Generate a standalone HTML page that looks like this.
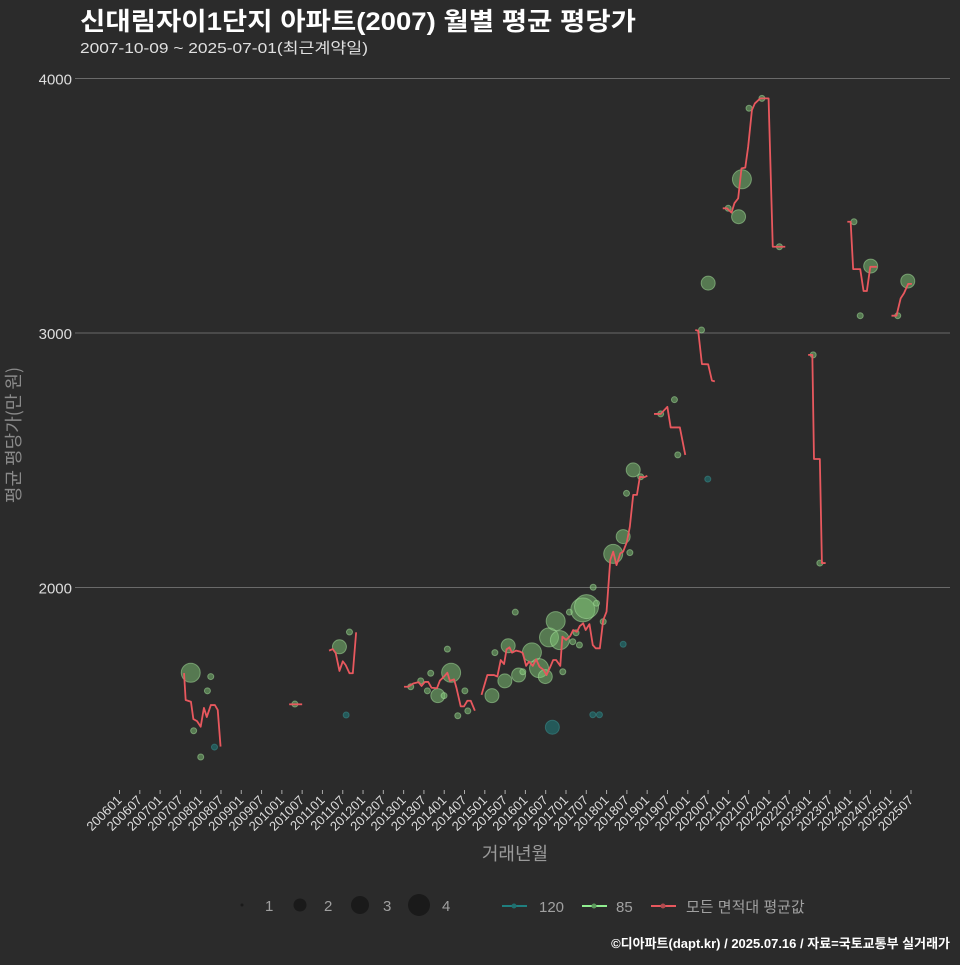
<!DOCTYPE html>
<html><head><meta charset="utf-8"><style>
body{margin:0;background:#2b2b2b;}
svg text{font-family:"Liberation Sans","Noto Sans CJK KR",sans-serif;}
</style></head><body>
<svg id="chart" width="960" height="960" xmlns="http://www.w3.org/2000/svg">
<rect width="960" height="960" fill="#2b2b2b"/>
<text x="80" y="30" fill="#ffffff" font-size="25" font-weight="bold" textLength="556" lengthAdjust="spacingAndGlyphs">신대림자이1단지 아파트(2007) 월별 평균 평당가</text>
<text x="80" y="53" fill="#e0e0e0" font-size="15" textLength="288" lengthAdjust="spacingAndGlyphs">2007-10-09 ~ 2025-07-01(최근계약일)</text>
<g id="grid"></g>
<g id="xaxis"></g>
<text x="515" y="860" fill="#9a9a9a" font-size="18" text-anchor="middle">거래년월</text>
<text transform="translate(20,435) rotate(-90)" fill="#8a8a8a" font-size="18" text-anchor="middle" style="font-family:'Noto Sans CJK KR',sans-serif">평균 평당가(만 원)</text>
<g id="points"></g>
<g id="lines"></g>
<g>
 <circle cx="242" cy="905" r="1.5" fill="#1a1a1a"/>
 <text x="265" y="911" fill="#a0a0a0" font-size="15">1</text>
 <circle cx="300" cy="905" r="6.5" fill="#1a1a1a"/>
 <text x="324" y="911" fill="#a0a0a0" font-size="15">2</text>
 <circle cx="360" cy="905" r="9" fill="#1a1a1a"/>
 <text x="383" y="911" fill="#a0a0a0" font-size="15">3</text>
 <circle cx="419" cy="905" r="11" fill="#1a1a1a"/>
 <text x="442" y="911" fill="#a0a0a0" font-size="15">4</text>
 <line x1="502" y1="906" x2="527" y2="906" stroke="#1f7f7f" stroke-width="2"/>
 <circle cx="514" cy="906" r="2.5" fill="#1f6f6f"/>
 <text x="539" y="912" fill="#a0a0a0" font-size="15">120</text>
 <line x1="582" y1="906" x2="607" y2="906" stroke="#90ee90" stroke-width="2"/>
 <circle cx="594" cy="906" r="2.5" fill="#5c9a5c"/>
 <text x="616" y="912" fill="#a0a0a0" font-size="15">85</text>
 <line x1="651" y1="906" x2="676" y2="906" stroke="#e8585e" stroke-width="2"/>
 <circle cx="663" cy="906" r="2.5" fill="#b04a4e"/>
 <text x="686" y="912" fill="#a0a0a0" font-size="15">모든 면적대 평균값</text>
</g>
<text x="950" y="948" fill="#ffffff" font-size="13" font-weight="bold" text-anchor="end">©디아파트(dapt.kr) / 2025.07.16 / 자료=국토교통부 실거래가</text>
</svg>
<script>
const yTicks = [2000, 3000, 4000];
const xTickStartYear = 2006;
const xTickCount = 40;
// average line segments: [time (decimal year), value]
const lineSegments = [
 [[2007.59,1664],[2007.63,1558],[2007.76,1551],[2007.82,1483],[2007.91,1475],[2008.00,1453],[2008.08,1527],[2008.15,1491],[2008.25,1538],[2008.35,1538],[2008.42,1519],[2008.49,1375]],
 [[2010.18,1541],[2010.50,1541]],
 [[2011.163,1752],[2011.255,1758],[2011.327,1742],[2011.419,1672],[2011.501,1710],[2011.573,1695],[2011.666,1663],[2011.748,1663],[2011.830,1824]],
 [[2013.010,1610],[2013.113,1610],[2013.236,1623],[2013.370,1628],[2013.441,1613],[2013.523,1629],[2013.606,1629],[2013.688,1606],[2013.821,1604],[2013.893,1634],[2013.996,1650],[2014.078,1665],[2014.139,1633],[2014.242,1639],[2014.304,1604],[2014.406,1533],[2014.488,1533],[2014.570,1555],[2014.653,1555],[2014.755,1516]],
 [[2014.919,1578],[2015.063,1656],[2015.227,1656],[2015.309,1650],[2015.392,1715],[2015.474,1699],[2015.535,1757],[2015.607,1765],[2015.669,1744],[2015.771,1752],[2015.874,1748],[2015.936,1742],[2016.018,1692],[2016.090,1709],[2016.182,1692],[2016.264,1718],[2016.346,1689],[2016.449,1676],[2016.521,1656],[2016.623,1692],[2016.685,1715],[2016.757,1715],[2016.859,1692],[2016.911,1807],[2017.003,1794],[2017.106,1810],[2017.177,1833],[2017.270,1826],[2017.342,1849],[2017.424,1859],[2017.485,1833],[2017.578,1856],[2017.660,1774],[2017.732,1761],[2017.834,1761],[2017.917,1872],[2017.999,1905],[2018.091,2108],[2018.163,2141],[2018.245,2088],[2018.337,2134],[2018.409,2141],[2018.502,2180],[2018.573,2239],[2018.656,2364],[2018.748,2364],[2018.820,2435],[2018.922,2433],[2019.004,2439]],
 [[2019.169,2682],[2019.333,2682],[2019.497,2710],[2019.579,2629],[2019.805,2629],[2019.939,2521]],
 [[2020.185,3012],[2020.257,3009],[2020.349,2878],[2020.503,2877],[2020.595,2813],[2020.667,2810]],
 [[2020.862,3490],[2020.965,3490],[2021.078,3473],[2021.150,3510],[2021.242,3529],[2021.324,3647],[2021.417,3650],[2021.488,3732],[2021.581,3876],[2021.653,3902],[2021.786,3922],[2021.991,3922],[2022.094,3339],[2022.402,3339]],
 [[2022.966,2914],[2023.069,2914],[2023.110,2505],[2023.254,2505],[2023.305,2096],[2023.397,2096]],
 [[2023.931,3437],[2024.013,3437],[2024.075,3251],[2024.249,3251],[2024.331,3165],[2024.413,3165],[2024.496,3260],[2024.660,3260]],
 [[2025.019,3068],[2025.142,3068],[2025.245,3136],[2025.327,3156],[2025.430,3193],[2025.522,3193]]
];
const pointTimes = [2007.755,2008.248,2008.166,2007.827,2008.001,2008.340,2010.321,2011.419,2011.666,2011.584,2014.078,2014.170,2013.667,2013.421,2013.585,2013.842,2013.996,2014.509,2014.334,2014.581,2013.175,2015.176,2015.248,2015.494,2015.576,2015.751,2015.833,2015.936,2016.161,2016.336,2016.490,2016.582,2016.746,2016.849,2016.921,2017.085,2017.167,2017.249,2017.331,2017.414,2017.506,2017.670,2017.752,2017.917,2016.664,2017.660,2017.824,2018.409,2018.163,2018.409,2018.573,2018.491,2018.656,2018.840,2019.333,2019.672,2019.754,2020.493,2020.503,2020.339,2020.996,2021.252,2021.334,2021.509,2021.827,2022.258,2023.090,2023.254,2024.095,2024.506,2024.249,2025.173,2025.420];
const pointValues = [1665,1650,1594,1437,1334,1373,1542,1767,1825,1499,1758,1665,1663,1633,1594,1575,1575,1594,1496,1515,1610,1575,1744,1633,1771,1903,1656,1669,1745,1683,1650,1804,1868,1793,1669,1903,1787,1822,1774,1912,1925,2001,1938,1866,1451,1500,1500,1777,2132,2200,2137,2370,2462,2435,2682,2738,2521,2426,3196,3012,3490,3457,3604,3883,3922,3339,2914,2096,3437,3263,3068,3068,3204];
const pointCounts = [3,1,1,1,1,1,1,2,1,1,1,3,1,1,1,2,1,1,1,1,1,2,1,2,2,1,2,1,3,3,2,3,3,3,1,1,1,1,1,4,4,1,1,1,2,1,1,1,3,2,1,1,2,1,1,1,1,1,2,1,1,2,3,1,1,1,1,1,1,2,1,1,2];
const pointAreas = ["85","85","85","85","85","120","85","85","85","120","85","85","85","85","85","85","85","85","85","85","85","85","85","85","85","85","85","85","85","85","85","85","85","85","85","85","85","85","85","85","85","85","85","85","120","120","120","120","85","85","85","85","85","85","85","85","85","120","85","85","85","85","85","85","85","85","85","85","85","85","85","85","85"];

const NS = "http://www.w3.org/2000/svg";
const X0 = 119.5, PX_PER_YEAR = 40.59;
const xScale = t => X0 + (t - 2006) * PX_PER_YEAR;
const yScale = v => 333 - (v - 3000) * 0.2545;
const rScale = c => [0, 3, 7, 9.5, 12][c];

const grid = document.getElementById('grid');
yTicks.forEach(v => {
  const l = document.createElementNS(NS, 'line');
  
  
  l.setAttribute('x1', 75); l.setAttribute('x2', 950);
  l.setAttribute('y1', yScale(v)); l.setAttribute('y2', yScale(v));
  l.setAttribute('stroke', '#6a6a6a'); l.setAttribute('stroke-width', '1');
  grid.appendChild(l);
  const t = document.createElementNS(NS, 'text');
  
  
  t.setAttribute('x', 72); t.setAttribute('y', yScale(v) + 6);
  t.setAttribute('text-anchor', 'end'); t.setAttribute('fill', '#dddddd');
  t.setAttribute('font-size', '15');
  t.textContent = v;
  grid.appendChild(t);
});
const xa = document.getElementById('xaxis');
for (let i = 0; i < xTickCount; i++) {
  const yr = xTickStartYear + Math.floor(i / 2), mo = i % 2 ? 7 : 1;
  const x = xScale(yr + (mo - 1) / 12);
  const tk = document.createElementNS(NS, 'line');
  
  
  tk.setAttribute('x1', x); tk.setAttribute('x2', x); tk.setAttribute('y1', 790); tk.setAttribute('y2', 794);
  tk.setAttribute('stroke', '#aaaaaa');
  xa.appendChild(tk);
  const t = document.createElementNS(NS, 'text');
  
  
  t.setAttribute('transform', `translate(${x + 3},${801}) rotate(-45)`);
  t.setAttribute('text-anchor', 'end'); t.setAttribute('fill', '#dddddd');
  t.setAttribute('font-size', '13');
  t.textContent = yr + (mo === 1 ? '01' : '07');
  xa.appendChild(t);
}
const pg = document.getElementById('points');
pointTimes.forEach((t, i) => {
  const c = document.createElementNS(NS, 'circle');
  
  
  c.setAttribute('cx', xScale(t)); c.setAttribute('cy', yScale(pointValues[i]));
  c.setAttribute('r', rScale(pointCounts[i]));
  if (pointAreas[i] === '120') { c.setAttribute('fill', 'rgba(32,120,120,0.6)'); c.setAttribute('stroke', 'rgba(60,150,150,0.5)'); }
  else { c.setAttribute('fill', 'rgba(130,200,120,0.5)'); c.setAttribute('stroke', 'rgba(170,230,160,0.5)'); }
  c.setAttribute('stroke-width', '1');
  pg.appendChild(c);
});
const lg = document.getElementById('lines');
lineSegments.forEach(seg => {
  const p = document.createElementNS(NS, 'polyline');
  
  
  p.setAttribute('points', seg.map(d => xScale(d[0]) + ',' + yScale(d[1])).join(' '));
  p.setAttribute('fill', 'none'); p.setAttribute('stroke', '#e8585e'); p.setAttribute('stroke-width', '1.8');
  p.setAttribute('stroke-linejoin', 'round');
  lg.appendChild(p);
});
</script>
</body></html>
